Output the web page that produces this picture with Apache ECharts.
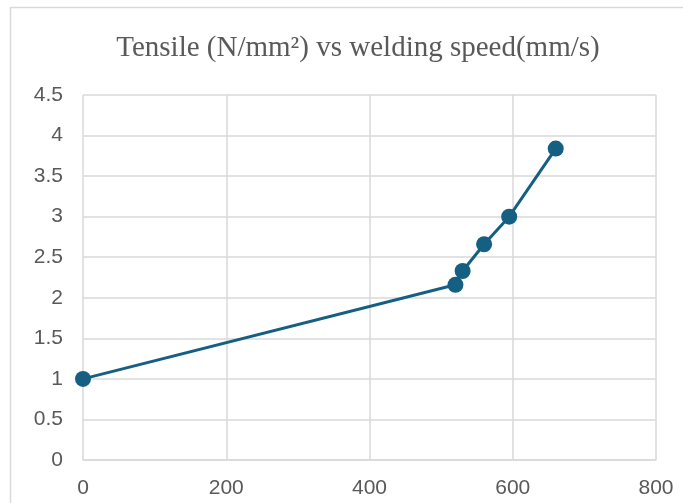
<!DOCTYPE html>
<html>
<head>
<meta charset="utf-8">
<script src="https://cdn.jsdelivr.net/npm/echarts@6/dist/echarts.min.js"></script>
<style>
  html, body { margin: 0; padding: 0; background: #fff; }
  #chart { width: 683px; height: 503px; }
</style>
</head>
<body>
<div id="chart"></div>
<script>
// welding speed (mm/s) vs tensile (N/mm2)
var speed = [0, 520, 530, 560, 595, 660];
var tensile = [1, 2.16, 2.33, 2.66, 3.0, 3.84];
var titleText = 'Tensile (N/mm²) vs welding speed(mm/s)';

var points = speed.map(function (s, i) { return [s, tensile[i]]; });

var myChart = echarts.init(document.getElementById('chart'));

var option = {
  animation: false,
  backgroundColor: '#fff',
  title: {
    text: titleText,
    left: 353,
    top: 29,
    textAlign: 'center',
    textStyle: {
      fontFamily: 'Liberation Serif',
      fontWeight: 'normal',
      fontSize: 29,
      color: '#595959'
    }
  },
  graphic: [{
    type: 'rect',
    shape: { x: 10.5, y: 7.5, width: 700, height: 520 },
    style: { fill: 'none', stroke: '#d9d9d9', lineWidth: 1.5 },
    silent: true
  }],
  grid: { left: 83, right: 27, top: 95, bottom: 43, containLabel: false },
  xAxis: {
    type: 'value',
    min: 0, max: 800, interval: 200,
    axisLine: { show: true, lineStyle: { color: '#d9d9d9', width: 1.5 } },
    axisTick: { show: false },
    splitLine: { show: true, lineStyle: { color: '#d9d9d9', width: 1.5 } },
    axisLabel: {
      fontFamily: 'Liberation Sans', fontSize: 21, color: '#595959', margin: 18
    }
  },
  yAxis: {
    type: 'value',
    min: 0, max: 4.5, interval: 0.5,
    axisLine: { show: false },
    axisTick: { show: false },
    splitLine: { show: true, lineStyle: { color: '#d9d9d9', width: 1.5 } },
    axisLabel: {
      fontFamily: 'Liberation Sans', fontSize: 21, color: '#595959', margin: 20
    }
  },
  series: [{
    type: 'line',
    data: points,
    symbol: 'circle',
    symbolSize: 16,
    lineStyle: { color: '#156082', width: 3 },
    itemStyle: { color: '#156082' }
  }]
};

myChart.setOption(option);
</script>
</body>
</html>
